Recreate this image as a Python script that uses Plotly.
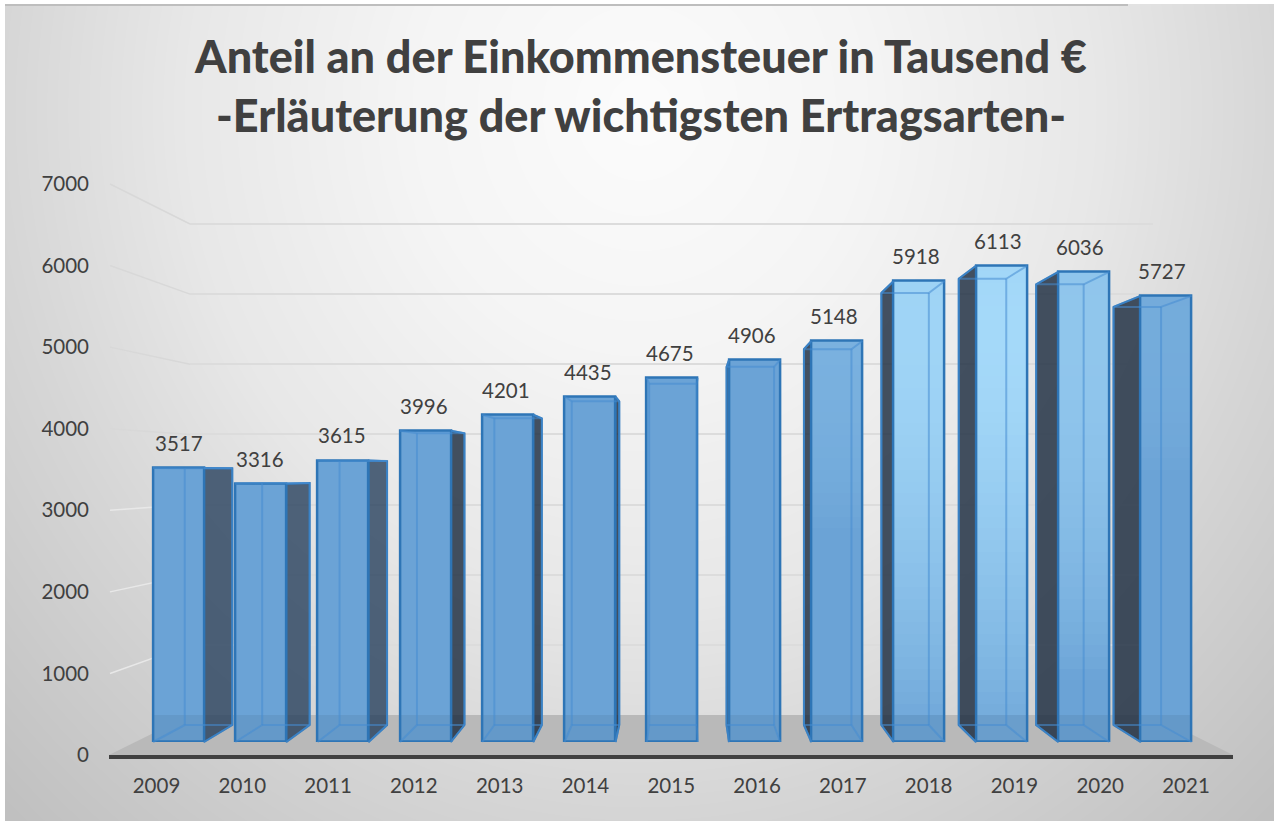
import base64, struct, zlib
import numpy as np
import plotly.graph_objects as go

# ---------- data ----------
years = ["2009","2010","2011","2012","2013","2014","2015","2016","2017","2018","2019","2020","2021"]
values = [3517,3316,3615,3996,4201,4435,4675,4906,5148,5918,6113,6036,5727]
y_ticks = [0,1000,2000,3000,4000,5000,6000,7000]
title_lines = ["Anteil an der Einkommensteuer in Tausend €", "-Erläuterung der wichtigsten Ertragsarten-"]

W, H = 1274, 821
TXT = "#404040"
EDGE = "#2e75b6"
FONT = "Lato"

# ---------- perspective planes (pixel position of value 0 and value 7000) ----------
OUTER = (755, 184); FRONT = (742, 196.7); BACK_BAR = (725, 214); WALL = (715, 224)
def plane_y(v, plane):
    return plane[0] + (plane[1] - plane[0]) * v / 7000
def fx(i): return 178.5 + 82.3 * i
def bx(i): return 208.5 + 77.4 * i
F_HALF, B_HALF = 25.5, 23.75

def dom_y(plane, top=7000):
    return [(H - plane[0]) / H, (H - plane_y(top, plane)) / H]
def dom_x(a, b):
    return [a / W, b / W]

# ---------- background picture ----------
def background_png():
    yy, xx = np.mgrid[0:H, 0:W]
    r = np.sqrt(((xx - 640) / 760.0) ** 2 + ((yy - 110) / 820.0) ** 2)
    g = np.interp(r, [0, 0.3, 0.6, 0.85, 1.2], [252, 245, 232, 214, 192])
    g[:, :5] = 255
    g[:4, :] = 255
    g[4:6, 5:1128] = 190
    g = g.astype(np.uint8)
    raw = b"".join(b"\x00" + g[i].tobytes() for i in range(H))
    def chunk(t, d):
        return struct.pack(">I", len(d)) + t + d + struct.pack(">I", zlib.crc32(t + d) & 0xffffffff)
    png = (b"\x89PNG\r\n\x1a\n" + chunk(b"IHDR", struct.pack(">IIBBBBB", W, H, 8, 0, 0, 0, 0))
           + chunk(b"IDAT", zlib.compress(raw, 9)) + chunk(b"IEND", b""))
    return "data:image/png;base64," + base64.b64encode(png).decode()

def lerp_col(t, dark=1.0):
    a, b = np.array([107, 163, 214]), np.array([174, 226, 255])
    c = (a + (b - a) * t) * dark
    return "rgb(%d,%d,%d)" % tuple(c)

def face_col(x, y, dark=1.0):
    rx = 140.0 if x < 960 else 220.0
    d = np.sqrt(((x - 960) / rx) ** 2 + ((y - 330) / 420.0) ** 2)
    return lerp_col(float(np.clip(1 - d, 0, 1)) ** 0.7, dark)

fig = go.Figure()

# floor and wall links (subplot 1, pixel space)
fig.add_trace(go.Scatter(
    x=[109, 1233, 1153, 190, 109], y=[plane_y(0, OUTER)] * 2 + [plane_y(0, WALL)] * 2 + [plane_y(0, OUTER)],
    fill="toself", fillcolor="#b9b9b9", mode="none", hoverinfo="skip", xaxis="x", yaxis="y"))
for t in y_ticks[1:]:
    fig.add_trace(go.Scatter(x=[110, 190], y=[plane_y(t, OUTER), plane_y(t, WALL)], mode="lines",
                             line=dict(color="#d8d8d8" if t >= 4000 else "#e8e8e8", width=1.5),
                             hoverinfo="skip", xaxis="x", yaxis="y"))

# back wall gridlines (subplot 2)
fig.add_trace(go.Scatter(x=[0, 1], y=[0, 7000], mode="none", hoverinfo="skip", xaxis="x2", yaxis="y2"))

# outer plane: axis labels (subplot 3)
fig.add_trace(go.Scatter(x=years, y=values, mode="none", hoverinfo="skip", xaxis="x3", yaxis="y3"))

# dark side faces (subplot 4, pixel space, projected from the values)
for i, v in enumerate(values):
    if i == 6:
        continue
    f = fx(i) + (F_HALF if i < 6 else -F_HALF)
    b = bx(i) + (B_HALF if i < 6 else -B_HALF)
    fig.add_trace(go.Scatter(
        x=[f, b, b, f, f],
        y=[plane_y(v, FRONT), plane_y(v, BACK_BAR), plane_y(0, BACK_BAR), plane_y(0, FRONT), plane_y(v, FRONT)],
        fill="toself", fillcolor="rgba(28,44,64,0.82)" if i > 2 else "rgba(35,60,90,0.78)",
        mode="lines", line=dict(color=EDGE, width=2), hoverinfo="skip", xaxis="x4", yaxis="y4"))

# front faces: value bars in vertical colour bands (subplot 5)
edges = [0, 346] + list(range(496, 6300, 150))
for lo, hi in zip(edges[:-1], edges[1:]):
    seg = [max(0, min(v, hi) - lo) for v in values]
    if not any(seg):
        continue
    cols = [face_col(fx(i), plane_y((lo + hi) / 2, FRONT), 0.94 if lo == 0 else 1.0) for i in range(len(values))]
    fig.add_trace(go.Bar(x=years, y=seg, base=lo, width=0.62, marker=dict(color=cols, line=dict(width=0)),
                         hoverinfo="skip", xaxis="x5", yaxis="y5"))
fig.add_trace(go.Bar(x=years, y=values, width=0.62, cliponaxis=False,
                     marker=dict(color="rgba(0,0,0,0)", line=dict(color=EDGE, width=2.5)),
                     hoverinfo="skip", xaxis="x5", yaxis="y5"))

# inner box edges seen through the front (subplot 6, pixel space)
INNER = "rgba(70,140,210,0.55)"
for i, v in enumerate(values):
    l, r, bl, br = fx(i) - F_HALF, fx(i) + F_HALF, bx(i) - B_HALF, bx(i) + B_HALF
    t_f, t_b, z_f, z_b = plane_y(v, FRONT), plane_y(v, BACK_BAR), plane_y(0, FRONT), plane_y(0, BACK_BAR)
    xs = [bl, br, None, bl, br, None, bl, bl, None, br, br, None, l, bl, None, r, br, None, l, bl, None, r, br]
    ys = [t_b, t_b, None, z_b, z_b, None, t_b, z_b, None, t_b, z_b, None, t_f, t_b, None, t_f, t_b, None, z_f, z_b, None, z_f, z_b]
    fig.add_trace(go.Scatter(x=xs, y=ys, mode="lines", line=dict(color=INNER, width=2),
                             hoverinfo="skip", xaxis="x6", yaxis="y6"))

pix_x = dict(domain=[0, 1], range=[0, W], visible=False, fixedrange=True)
pix_y = dict(domain=[0, 1], range=[H, 0], visible=False, fixedrange=True)

fig.update_layout(
    width=W, height=H, margin=dict(l=0, r=0, t=0, b=0, pad=0, autoexpand=False), autosize=False, showlegend=False,
    barmode="overlay", bargap=0,
    paper_bgcolor="white", plot_bgcolor="rgba(0,0,0,0)",
    font=dict(family=FONT, color=TXT, size=20.5),
    title=dict(text="<br>".join(title_lines), x=641 / W, xanchor="center", xref="paper",
               y=1 - 73 / H, yanchor="top", yref="paper",
               font=dict(family=FONT, size=45, color=TXT, weight=900)),
    images=[dict(source=background_png(), xref="paper", yref="paper", x=0, y=1, sizex=1, sizey=1,
                 sizing="stretch", xanchor="left", yanchor="top", layer="below")],
    xaxis=dict(pix_x, anchor="y"), yaxis=dict(pix_y, anchor="x"),
    xaxis2=dict(domain=dom_x(190, 1153), range=[0, 1], visible=False, anchor="y2", fixedrange=True),
    yaxis2=dict(domain=dom_y(WALL, 7100), range=[0, 7100], anchor="x2", tickvals=y_ticks[1:], showticklabels=False,
                showgrid=True, gridcolor="#dcdcdc", gridwidth=1.5, zeroline=False, showline=False, ticks="", fixedrange=True),
    xaxis3=dict(domain=dom_x(109.3, 1233.2), range=[-0.55, 12.55], type="category", anchor="y3",
                showline=True, linecolor="#404040", linewidth=4, showgrid=False, ticks="outside", ticklen=9,
                tickcolor="rgba(0,0,0,0)", tickfont=dict(size=20.5, color=TXT), fixedrange=True),
    yaxis3=dict(domain=dom_y(OUTER), range=[0, 7000], anchor="free", position=89 / W, side="left",
                tickvals=y_ticks, showgrid=False, zeroline=False, showline=False, ticks="",
                tickfont=dict(size=20.5, color=TXT), fixedrange=True),
    xaxis4=dict(pix_x, anchor="y4"), yaxis4=dict(pix_y, anchor="x4"),
    xaxis5=dict(domain=dom_x(fx(0) - 41.15, fx(12) + 41.15), range=[-0.5, 12.5], type="category",
                visible=False, anchor="y5", fixedrange=True),
    yaxis5=dict(domain=dom_y(FRONT), range=[0, 7000], visible=False, anchor="x5", fixedrange=True),
    xaxis6=dict(pix_x, anchor="y6"), yaxis6=dict(pix_y, anchor="x6"),
    annotations=[dict(x=i, y=v, xref="x5", yref="y5", text=str(v), showarrow=False, xshift=-i / 3, yshift=25,
                      font=dict(size=20.5, color=TXT)) for i, v in enumerate(values)],
)

fig.write_html("out.html", config={"displayModeBar": False},
               post_script="document.body.style.margin='0';document.documentElement.style.overflow='hidden';")
